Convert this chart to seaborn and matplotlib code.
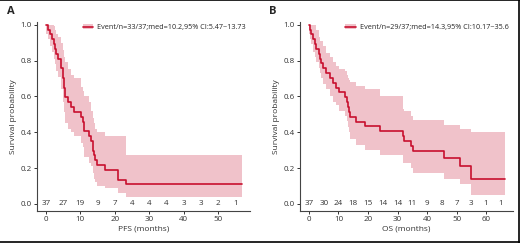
import matplotlib
matplotlib.use("Agg")
import matplotlib.pyplot as plt
import seaborn as sns
from matplotlib.lines import Line2D
from matplotlib.patches import Patch

# Panel A: PFS Kaplan-Meier steps (time in months)
pfs_time = [0, 0.5, 1.2, 1.7, 2.2, 2.7, 3.0, 3.5, 4.3, 5.0, 5.3, 5.6, 6.3, 7.4, 8.1,
            10.3, 10.7, 11.1, 12.6, 13.2, 13.7, 14.0, 14.3, 14.7, 17.1, 21.0, 23.2, 56.9]
pfs_surv = [1.0, .973, .946, .919, .892, .865, .838, .811, .757, .703, .649, .595, .568, .541, .514,
            .486, .459, .405, .378, .351, .297, .270, .243, .216, .189, .135, .108, .108]
pfs_upper = [1.0, 1.0, 1.0, 1.0, .99, .97, .95, .93, .90, .86, .82, .79, .75, .72, .70,
             .65, .63, .60, .57, .52, .48, .45, .42, .40, .38, .38, .27, .27]
pfs_lower = [.95, .92, .88, .85, .81, .78, .74, .71, .64, .57, .51, .45, .42, .40, .38,
             .34, .32, .26, .23, .21, .17, .14, .12, .10, .09, .06, .04, .04]
pfs_risk_t = [0, 5, 10, 15, 20, 25, 30, 35, 40, 45, 50, 55]
pfs_risk_n = [37, 27, 19, 9, 7, 4, 4, 4, 3, 3, 2, 1]

# Panel B: OS Kaplan-Meier steps
os_time = [0, 0.45, 0.8, 1.4, 1.9, 2.5, 3.4, 3.6, 4.2, 4.7, 5.9, 7.0, 8.1, 9.3, 10.1,
           12.1, 12.9, 13.2, 13.6, 13.8, 16.0, 18.9, 24.2, 31.9, 32.1, 34.7, 35.3,
           45.6, 51.1, 54.8, 66.6]
os_surv = [1.0, .973, .946, .919, .892, .865, .838, .811, .784, .757, .730, .703, .676, .649, .622,
           .595, .568, .541, .514, .486, .459, .432, .405, .378, .351, .324, .297,
           .255, .212, .141, .141]
os_upper = [1.0, 1.0, 1.0, 1.0, 1.0, .97, .93, .91, .91, .88, .84, .82, .79, .77, .75,
            .74, .72, .70, .69, .68, .66, .64, .60, .53, .52, .49, .47,
            .44, .42, .40, .40]
os_lower = [.95, .92, .89, .85, .82, .79, .76, .73, .70, .67, .64, .60, .57, .55, .52,
            .49, .46, .43, .40, .36, .33, .30, .27, .23, .23, .20, .17,
            .14, .11, .05, .05]
os_risk_t = [0, 5, 10, 15, 20, 25, 30, 35, 40, 45, 50, 55, 60, 65]
os_risk_n = [37, 30, 24, 18, 15, 14, 14, 11, 9, 8, 7, 3, 1, 1]

line_col = "#c8102e"
band_col = "#f0c2ca"
txt_col = "#333333"

sns.set_style("ticks")
plt.rcParams["font.family"] = ["Open Sans", "DejaVu Sans"]

fig = plt.figure(figsize=(5.2, 2.43), dpi=100)


def km_panel(rect, t, s, lo, hi, risk_t, risk_n, xlim, xticks, xlabel, legend_txt, tag, tag_x):
    ax = fig.add_axes(rect)
    ax.fill_between(t, lo, hi, step="post", color=band_col, lw=0)
    sns.lineplot(x=t, y=s, drawstyle="steps-post", color=line_col, lw=1.2,
                 ax=ax, estimator=None, sort=False)
    for xt, n in zip(risk_t, risk_n):
        ax.text(xt, 0, str(n), ha="center", va="center", fontsize=5.8, color=txt_col)
    ax.set_xlim(*xlim)
    ax.set_ylim(-0.04, 1.015)
    ax.set_xticks(xticks)
    ax.set_yticks([0, 0.2, 0.4, 0.6, 0.8, 1.0])
    ax.set_yticklabels(["0.0", "0.2", "0.4", "0.6", "0.8", "1.0"])
    ax.tick_params(labelsize=5.8, length=2.5, width=0.7, pad=1.2, colors=txt_col)
    ax.set_xlabel(xlabel, fontsize=6, color=txt_col, labelpad=2)
    ax.set_ylabel("Survival probability", fontsize=6, color=txt_col, labelpad=2.5)
    for sp in ["top", "right"]:
        ax.spines[sp].set_visible(False)
    for sp in ["left", "bottom"]:
        ax.spines[sp].set_linewidth(0.8)
        ax.spines[sp].set_color("#444444")
    h = (Patch(facecolor=band_col, edgecolor="none"), Line2D([], [], color=line_col, lw=1.2))
    ax.legend([h], [legend_txt], loc="upper right", bbox_to_anchor=(1.0, 1.01),
              frameon=False, fontsize=5.2, handlelength=1.5, handletextpad=0.5,
              borderaxespad=0.2)
    fig.text(tag_x, 1 - 12 / 243, tag, fontsize=8, fontweight="bold",
             ha="center", va="center")
    return ax


km_panel([37 / 520, 32 / 243, 213 / 520, 189 / 243], pfs_time, pfs_surv, pfs_lower, pfs_upper,
         pfs_risk_t, pfs_risk_n, (-2.6, 59.3), [0, 10, 20, 30, 40, 50], "PFS (months)",
         "Event/n=33/37;med=10.2,95% CI:5.47~13.73", "A", 11 / 520)
km_panel([300 / 520, 32 / 243, 213 / 520, 189 / 243], os_time, os_surv, os_lower, os_upper,
         os_risk_t, os_risk_n, (-3.05, 69.15), [0, 10, 20, 30, 40, 50, 60], "OS (months)",
         "Event/n=29/37;med=14.3,95% CI:10.17~35.6", "B", 273 / 520)

# outer frame
for xy in [([0, 1], [0.998, 0.998]), ([0, 1], [0.004, 0.004]), ([0.998, 0.998], [0, 1])]:
    fig.add_artist(Line2D(xy[0], xy[1], color="black", lw=1.2, transform=fig.transFigure))

fig.savefig("out.png", dpi=100)
